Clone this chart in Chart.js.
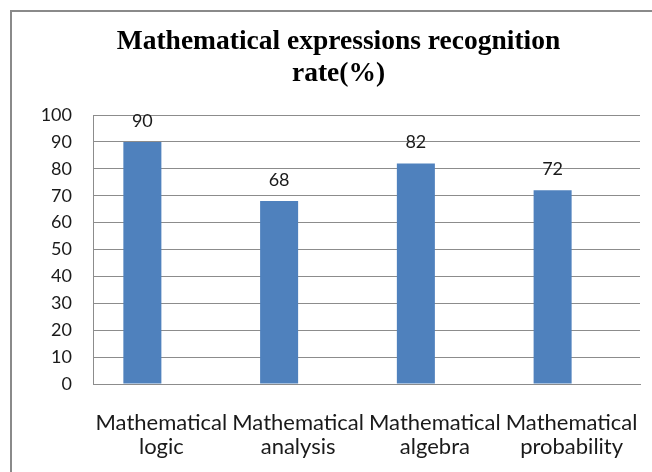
<!DOCTYPE html>
<html>
<head>
<meta charset="utf-8">
<script src="https://cdn.jsdelivr.net/npm/chart.js@4"></script>
<style>
  html, body { margin: 0; padding: 0; background: #ffffff; }
  #wrap { position: relative; width: 652px; height: 472px; overflow: hidden; }
  #frame {
    position: absolute; left: 10px; top: 10px; width: 700px; height: 520px;
    border-left: 2px solid #8a8a8a; border-top: 2px solid #8a8a8a;
  }
  canvas { position: absolute; left: 0; top: 0; }
</style>
</head>
<body>
<div id="wrap">
  <div id="frame"></div>
  <canvas id="chart" width="652" height="472"></canvas>
</div>
<script>
// Chart content
const titleLines = ['Mathematical expressions recognition', 'rate(%)'];
const categories = [
  ['Mathematical', 'logic'],
  ['Mathematical', 'analysis'],
  ['Mathematical', 'algebra'],
  ['Mathematical', 'probability']
];
const recognitionRate = [90, 68, 82, 72];
// second (unused) series slot of the original workbook, left empty
const emptySeries = [null, null, null, null];
const yTicks = [0, 10, 20, 30, 40, 50, 60, 70, 80, 90, 100];

const BAR_BLUE = '#4f81bd';
const GRID = '#8c8c8c';
const TEXT = '#1a1a1a';
const SANS = 'Lato, "Open Sans", sans-serif';

// value labels above each bar
const valueLabels = {
  id: 'valueLabels',
  afterDatasetsDraw(chart) {
    const ctx = chart.ctx;
    const meta = chart.getDatasetMeta(0);
    ctx.save();
    ctx.font = '18px ' + SANS;
    ctx.fillStyle = TEXT;
    ctx.textAlign = 'center';
    ctx.textBaseline = 'middle';
    meta.data.forEach((bar, i) => {
      const v = chart.data.datasets[0].data[i];
      ctx.fillText(String(v), bar.x, bar.y - 21);
    });
    ctx.restore();
  }
};

new Chart(document.getElementById('chart'), {
  type: 'bar',
  data: {
    labels: categories,
    datasets: [
      {
        label: 'Recognition rate',
        data: recognitionRate,
        backgroundColor: BAR_BLUE,
        borderWidth: 0
      },
      {
        label: '',
        data: emptySeries,
        backgroundColor: BAR_BLUE,
        borderWidth: 0
      }
    ]
  },
  options: {
    responsive: false,
    animation: false,
    devicePixelRatio: 1,
    datasets: {
      bar: { categoryPercentage: 0.556, barPercentage: 1.0 }
    },
    layout: { padding: { left: 37, right: 12, top: 0, bottom: 0 } },
    plugins: {
      legend: { display: false },
      tooltip: { enabled: false },
      title: {
        display: true,
        text: titleLines,
        color: '#000000',
        font: { family: '"Liberation Serif", "Times New Roman", serif', size: 27.5, weight: 'bold', lineHeight: 32 / 27.5 },
        padding: { top: 26, bottom: 25 }
      }
    },
    scales: {
      x: {
        grid: { display: false, drawTicks: false },
        border: { display: true, color: GRID, width: 1 },
        ticks: {
          color: TEXT,
          font: { family: SANS, size: 22, lineHeight: 1.1 },
          padding: 27,
          maxRotation: 0,
          autoSkip: false
        },
        afterFit(scale) {
          scale.height = 88;
          scale.paddingLeft = 0;
          scale.paddingRight = 0;
        }
      },
      y: {
        min: 0,
        max: 100,
        afterBuildTicks(scale) { scale.ticks = yTicks.map(v => ({ value: v })); },
        grid: { color: GRID, lineWidth: 1, drawTicks: false },
        border: { display: true, color: GRID, width: 1 },
        ticks: {
          color: TEXT,
          font: { family: SANS, size: 18 },
          padding: 21
        },
        afterFit(scale) { scale.width = 56; }
      }
    }
  },
  plugins: [valueLabels]
});
</script>
</body>
</html>
